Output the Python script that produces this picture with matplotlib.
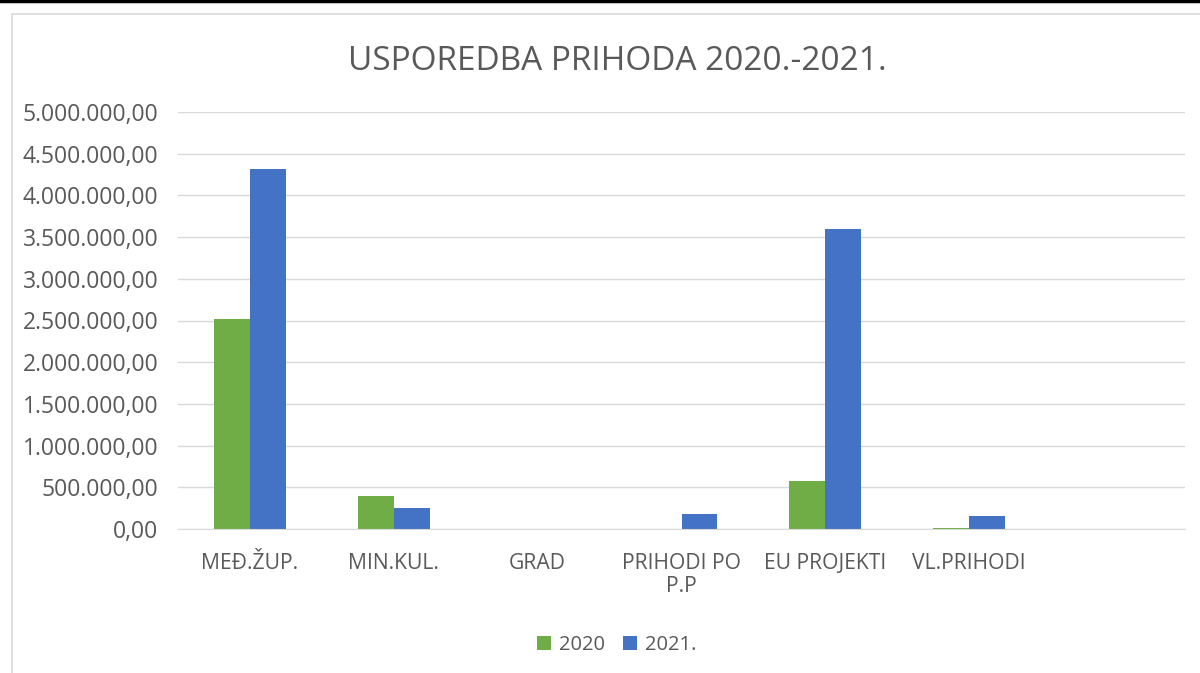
import matplotlib.pyplot as plt
import matplotlib.patches as patches
import numpy as np

plt.rcParams['font.family'] = ['Open Sans', 'DejaVu Sans']

# data
categories = ['MEĐ.ŽUP.', 'MIN.KUL.', 'GRAD', 'PRIHODI PO\nP.P', 'EU PROJEKTI', 'VL.PRIHODI', '']
values_2020 = [2520000, 395000, 5000, 4000, 576000, 12000, 0]
values_2021 = [4315000, 250000, 4000, 180000, 3600000, 156000, 0]
series_names = ['2020', '2021.']
colors = ['#70ad47', '#4472c4']

text_col = '#595959'

fig = plt.figure(figsize=(12, 6.73), dpi=100)
ax = fig.add_axes([178/1200, 1 - 529/673, (1185-178)/1200, (529-112)/673])

x = np.arange(len(categories))
w = 0.25
ax.bar(x - w/2, values_2020, width=w, color=colors[0], label=series_names[0])
ax.bar(x + w/2, values_2021, width=w, color=colors[1], label=series_names[1])

ax.set_xlim(-0.5, len(categories) - 0.5)
ax.set_ylim(0, 5000000)
yt = np.arange(0, 5000001, 500000)
ax.set_yticks(yt)
ax.set_yticklabels(['{:,.2f}'.format(v).replace(',', 'X').replace('.', ',').replace('X', '.') for v in yt])
ax.set_xticks(x)
ax.set_xticklabels(categories, linespacing=1.15)
ax.tick_params(axis='both', length=0, colors=text_col)
ax.tick_params(axis='x', pad=17, labelsize=15.2)
ax.tick_params(axis='y', pad=14, labelsize=16.5)
ax.grid(axis='y', color='#d9d9d9', linewidth=1)
ax.set_axisbelow(True)
for s in ['top', 'right', 'left']:
    ax.spines[s].set_visible(False)
ax.spines['bottom'].set_color('#d9d9d9')

fig.text(617/1200, 1 - 62/673, 'USPOREDBA PRIHODA 2020.-2021.', ha='center', va='center',
         fontsize=24, color=text_col)

fig.legend(loc='center', bbox_to_anchor=(617/1200, 1 - 645/673), ncol=2, frameon=False,
           fontsize=14.5, handlelength=0.7, handleheight=0.7, handletextpad=0.4,
           columnspacing=0.9, labelcolor=text_col)

# outer frame lines
fig.add_artist(plt.Line2D([0, 1], [1 - 1/673, 1 - 1/673], color='black', linewidth=2.5,
                          transform=fig.transFigure))
fig.add_artist(patches.Rectangle((12/1200, -0.05), 1.1, 1 - 14/673 + 0.05, fill=False,
                                 edgecolor='#d9d9d9', linewidth=1.2, transform=fig.transFigure))

fig.savefig('out.png', dpi=100)
